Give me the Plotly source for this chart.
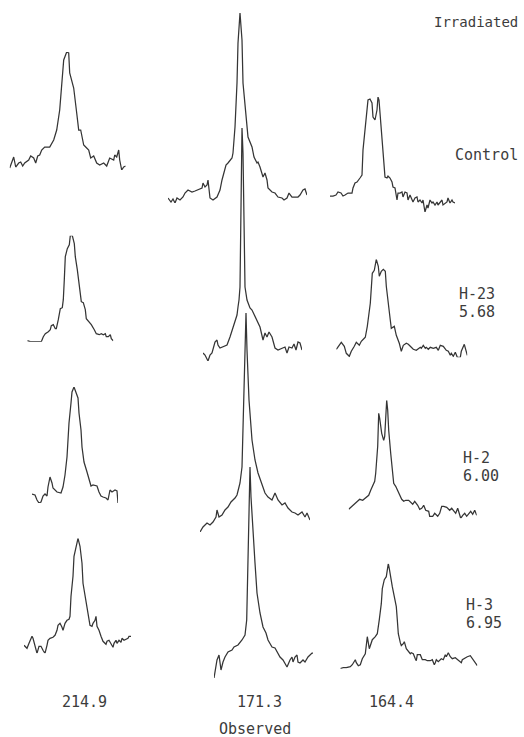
import plotly.graph_objects as go

# ---------------- data: offset (Hz, relative to peak) and intensity (arb. units) ----------------
# column 214.9
c2149_ctrl_x = [-57,-53,-51,-48,-46,-44,-42,-38,-36,-33,-31,-29,-27,-25,-22,-17,-13,-10,-7,-5,-3,0,2,3,7,10,12,14,17,19,22,24,27,30,33,37,40,43,47,48,50,52,53,55,57,59]
c2149_ctrl_y = [2,13,3,7,8,4,7,10,14,12,7,14,15,20,23,23,30,40,60,90,110,118,117,97,82,57,40,40,25,23,20,12,14,7,5,7,4,12,10,15,13,20,10,0,3,4]

c2149_h23_x = [-44,-41,-38,-35,-30,-28,-26,-23,-21,-20,-18,-16,-15,-13,-11,-9,-8,-7,-6,-4,-2,-1,1,3,4,6,8,9,10,12,14,15,18,20,23,25,28,30,32,34,35,37,39,40,42]
c2149_h23_y = [1,0,0,0,0,5,8,10,12,16,17,13,13,22,33,34,42,62,85,93,97,106,106,98,85,72,58,50,40,39,32,23,20,17,12,8,7,8,7,8,5,5,7,3,1]

c2149_h2_x = [-42,-39,-37,-35,-33,-31,-29,-27,-26,-24,-22,-21,-17,-13,-11,-9,-7,-6,-5,-3,-2,0,2,4,5,7,8,10,13,15,17,19,23,25,27,29,32,34,36,38,41,43,44]
c2149_h2_y = [1,0,-5,-8,-7,-1,1,-1,8,18,12,7,3,2,8,20,38,55,72,92,103,108,103,97,82,65,48,33,23,15,9,10,9,3,-1,-2,-3,-5,5,3,5,4,-8]

c2149_h3_x = [-54,-51,-49,-46,-45,-43,-41,-39,-37,-35,-33,-31,-30,-28,-25,-23,-21,-20,-18,-16,-15,-13,-11,-9,-8,-7,-5,-4,-2,0,2,4,5,7,9,10,12,14,15,17,18,19,21,23,25,28,29,31,33,35,36,38,39,41,43,44,46,48,50,51,53]
c2149_h3_y = [-2,-5,0,7,5,-2,-10,-3,-3,-7,-10,-2,3,5,6,8,13,18,20,16,13,20,23,24,27,47,67,87,97,105,97,80,60,47,33,27,18,17,20,23,27,17,13,7,2,-1,2,3,0,-4,0,3,0,3,1,5,3,4,5,7,7]

# column 171.3
c1713_ctrl_x = [-72,-69,-67,-65,-63,-60,-57,-55,-52,-48,-45,-42,-38,-37,-35,-33,-32,-30,-27,-23,-20,-18,-16,-14,-12,-8,-7,-5,-3,-2,0,2,3,6,8,12,14,17,18,20,22,23,25,27,28,32,35,38,42,44,47,49,52,55,58,60,63,65,67]
c1713_ctrl_y = [2,-2,1,-3,2,0,3,7,10,8,9,10,12,17,13,15,20,2,0,3,10,20,27,35,37,42,47,73,117,157,187,160,117,80,63,53,43,37,38,33,27,23,27,20,12,8,7,3,2,0,2,7,3,3,3,5,10,11,5]

c1713_h23_x = [-39,-37,-34,-32,-30,-27,-25,-24,-22,-19,-15,-12,-9,-7,-5,-4,-3,-2,-1.3,-0.7,0,1,2,3,5,8,10,13,16,18,21,23,25,27,30,33,36,40,43,45,47,50,52,54,56,58,60]
c1713_h23_y = [-3,-5,-11,-5,-3,8,10,5,2,3,5,13,22,27,35,43,50,63,130,197,222,197,130,63,50,42,40,34,28,23,10,17,13,18,13,2,0,2,3,-3,3,2,6,0,8,7,0]

c1713_h2_x = [-46,-43,-39,-36,-33,-30,-29,-27,-24,-21,-18,-15,-11,-9,-7,-6,-4,-3,-1,0,1,3,6,9,12,16,19,22,26,29,32,36,39,42,46,49,52,56,59,61,64]
c1713_h2_y = [-12,-7,-3,-5,-2,3,10,3,5,10,13,18,22,25,33,37,53,87,170,207,170,120,80,60,47,35,27,23,20,27,20,15,17,12,8,7,5,8,3,7,0]

c1713_h3_x = [-36,-35,-33,-31,-29,-27,-25,-22,-18,-16,-12,-8,-5,-3.3,-2.3,-1.3,-0.7,0,1,2.7,5,7,10,13,16,18,22,25,27,30,33,35,37,40,42,43,45,47,48,50,53,55,58,62,63]
c1713_h3_y = [-13,-5,5,10,-5,3,8,13,15,18,20,25,30,45,85,135,168,198,168,135,102,72,52,38,32,25,18,17,13,8,5,2,-2,5,8,3,8,10,3,2,5,3,8,12,12]

# column 164.4
c1644_ctrl_x = [-44,-41,-38,-36,-33,-31,-29,-26,-22,-21,-19,-17,-14,-12,-11,-9,-7,-6,-4,-2,-1,1,3,4,5,7,9,11,13,14,16,18,19,21,23,24,26,28,29,31,33,34,36,38,39,41,43,44,46,48,49,51,53,54,56,58,59,61,63,64,66,68,69,71,73,74,76,78,79,81]
c1644_ctrl_y = [4,4,5,8,7,4,5,7,7,12,17,18,22,25,50,73,93,100,101,97,83,80,90,103,100,73,47,23,22,24,22,18,13,12,0,7,7,8,3,8,7,0,5,0,-2,2,3,-2,0,-3,0,-12,-5,-8,0,-3,-2,-5,-2,-5,-3,0,-5,-3,-2,2,-3,0,-2,-3]

c1644_h23_x = [-42,-39,-37,-34,-32,-29,-27,-24,-22,-19,-17,-14,-13,-11,-8,-6,-4,-2,0,1,3,5,7,8,10,12,13,16,18,21,23,25,28,30,32,35,38,40,42,43,45,47,48,50,52,55,58,60,62,65,68,70,72,73,75,77,79,82,83,86,88,89]
c1644_h23_y = [-1,4,6,2,-5,-8,-3,2,6,3,7,10,11,22,45,75,78,89,82,72,77,79,77,62,42,28,20,22,13,5,-3,3,5,4,2,-1,-2,0,1,0,3,0,1,-1,1,0,1,-2,3,2,-2,-3,-7,-5,-8,-4,-9,-9,-3,4,-2,-7]

c1644_h2_x = [-34,-31,-28,-25,-23,-20,-18,-14,-12,-10,-8,-7,-5,-4,-3,-1,1,2,3,4,5,6,8,10,11,13,15,17,19,21,23,26,28,30,32,35,37,39,41,43,46,47,50,52,55,57,59,61,64,67,69,71,73,75,77,78,80,82,84,86,88,90,92,94]
c1644_h2_y = [-1,2,5,7,9,8,10,13,18,22,27,35,62,95,90,75,68,72,88,108,98,78,55,32,25,22,17,12,9,7,8,8,6,4,7,3,-1,0,3,-2,-3,-8,-8,-5,-8,-5,2,2,1,-2,0,-3,-5,0,-7,-10,-7,-5,-8,-5,-3,-6,-2,-7]

c1644_h3_x = [-48,-45,-42,-38,-36,-33,-32,-30,-28,-26,-23,-22,-21,-19,-18,-16,-13,-11,-9,-7,-6,-4,-2,-1,0,1,2,4,6,8,9,10,12,13,15,16,18,19,20,22,23,25,27,28,29,32,34,37,39,42,44,46,47,48,50,52,53,55,57,58,60,62,64,67,69,71,73,74,77,79,82,84,86,88,89]
c1644_h3_y = [-2,-1,-1,0,2,7,4,1,2,8,13,20,30,18,21,27,30,33,47,63,78,87,90,100,103,98,90,80,70,60,47,33,24,21,23,25,18,17,15,13,14,13,8,6,12,12,7,7,6,6,7,2,4,7,5,7,8,7,12,10,14,10,8,9,7,6,4,7,9,10,11,8,5,3,1]

# tick / row / column labels
column_labels = ["214.9", "171.3", "164.4"]
row_labels = [["Control"], ["H-23", "5.68"], ["H-2", "6.00"], ["H-3", "6.95"]]
header_label = "Irradiated"
axis_label = "Observed"

# ---------------- layout (pixel placement of each spectrum: peak x, baseline y) ----------------
W, H = 524, 737
series = [
    (c2149_ctrl_x, c2149_ctrl_y, 66.7, 170.0),
    (c2149_h23_x, c2149_h23_y, 71.3, 341.7),
    (c2149_h2_x, c2149_h2_y, 74.0, 495.0),
    (c2149_h3_x, c2149_h3_y, 78.0, 643.3),
    (c1713_ctrl_x, c1713_ctrl_y, 240.0, 200.0),
    (c1713_h23_x, c1713_h23_y, 242.0, 350.0),
    (c1713_h2_x, c1713_h2_y, 246.0, 520.0),
    (c1713_h3_x, c1713_h3_y, 250.0, 665.0),
    (c1644_ctrl_x, c1644_ctrl_y, 374.0, 200.0),
    (c1644_h23_x, c1644_h23_y, 378.3, 348.3),
    (c1644_h2_x, c1644_h2_y, 382.7, 508.3),
    (c1644_h3_x, c1644_h3_y, 388.3, 666.7),
]

LINE = "#353535"
fig = go.Figure()
layout_axes = {}
for i, (xs, ys, px, by) in enumerate(series):
    n = "" if i == 0 else str(i + 1)
    x0, x1 = min(xs), max(xs)
    y0, y1 = min(ys), max(ys)
    fig.add_trace(go.Scatter(x=xs, y=ys, mode="lines",
                             line=dict(color=LINE, width=1.25),
                             xaxis="x" + n, yaxis="y" + n,
                             cliponaxis=False,
                             hoverinfo="skip", showlegend=False))
    layout_axes["xaxis" + n] = dict(domain=[(px + x0) / W, (px + x1) / W], range=[x0, x1],
                                    visible=False, anchor="y" + n, fixedrange=True)
    layout_axes["yaxis" + n] = dict(domain=[1 - (by - y0) / H, 1 - (by - y1) / H], range=[y0, y1],
                                    visible=False, anchor="x" + n, fixedrange=True)

fig.update_layout(**layout_axes)

TXT = "#3c3c3c"
FAM = "DejaVu Sans Mono, Liberation Mono, monospace"

def add_text(t, x, y, anchor="left", size=15):
    fig.add_annotation(text=t, x=x / W, y=1 - y / H, xref="paper", yref="paper",
                       xanchor=anchor, yanchor="middle", showarrow=False,
                       font=dict(family=FAM, size=size, color=TXT))

add_text(header_label, 432, 22, size=14)
add_text(row_labels[0][0], 453, 155)
row_pos = [(457, 294, 312), (461, 458, 476), (464, 605, 623)]
for (lx, y1, y2), lab in zip(row_pos, row_labels[1:]):
    add_text(lab[0], lx, y1)
    add_text(lab[1], lx, y2)

for lab, cx in zip(column_labels, [84, 259, 391]):
    add_text(lab, cx, 702, anchor="center")
add_text(axis_label, 255, 729, anchor="center")

fig.update_layout(width=W, height=H, margin=dict(l=0, r=0, t=0, b=0),
                  paper_bgcolor="white", plot_bgcolor="rgba(0,0,0,0)", showlegend=False)

fig.write_html("out.html", config={"displayModeBar": False},
               post_script="document.body.style.margin='0';document.body.style.padding='0';")
